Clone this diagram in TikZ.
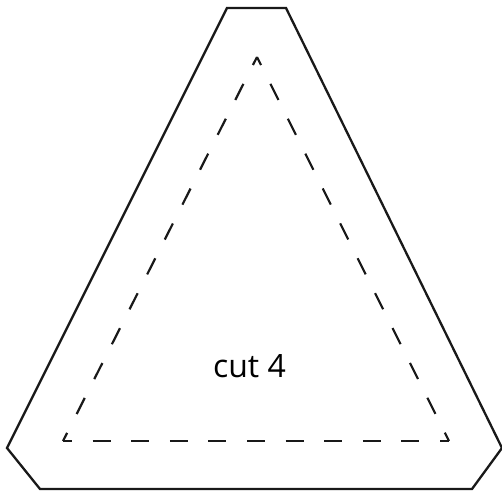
\documentclass[tikz,border=0pt]{standalone}
\usepackage{fontspec}
\setmainfont{Open Sans}
\begin{document}
\begin{tikzpicture}[x=1pt, y=-1pt,
    outline/.style={line width=2.3pt, black!90, line join=miter},
    cutline/.style={line width=2.2pt, black!90}]

    \useasboundingbox (0, 0) rectangle (502, 494);

    % outer piece
    \coordinate (topL) at (227, 8);
    \coordinate (topR) at (286, 8);
    \coordinate (right) at (502, 448);
    \coordinate (botR) at (472, 489);
    \coordinate (botL) at (40, 489);
    \coordinate (left) at (7, 448);

    \draw[outline] (topL) -- (topR) -- (right) -- (botR) -- (botL) -- (left) -- cycle;

    % inner cut triangle
    \coordinate (apex) at (257, 57);
    \coordinate (cutL) at (63, 441);
    \coordinate (cutR) at (449, 441);

    \draw[cutline, dash pattern=on 18pt off 21.1pt, dash phase=9pt] (apex) -- (cutL);
    \draw[cutline, dash pattern=on 18pt off 21pt, dash phase=9pt] (apex) -- (cutR);
    \draw[cutline, dash pattern=on 18pt off 20.6pt, dash phase=9pt] (cutL) -- (cutR);

    \node[anchor=base, font=\fontsize{32}{38}\selectfont, inner sep=0pt] (label) at (249.5, 377) {cut 4};
\end{tikzpicture}
\end{document}
